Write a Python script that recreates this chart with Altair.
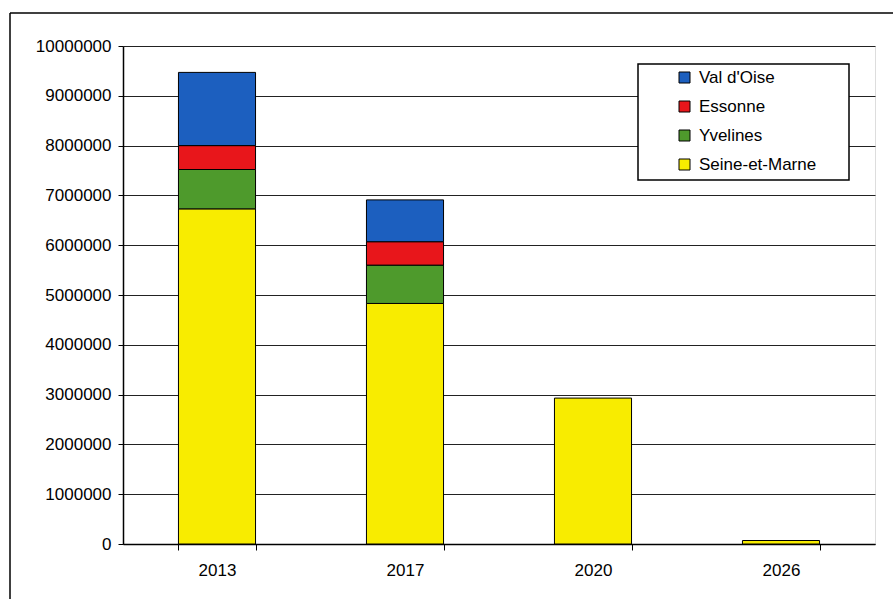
import altair as alt
import pandas as pd

years = ["2013", "2017", "2020", "2026"]
seine_et_marne = [6730000, 4830000, 2930000, 70000]
yvelines = [790000, 770000, 0, 0]
essonne = [480000, 470000, 0, 0]
val_doise = [1470000, 840000, 0, 0]

series_names = ["Seine-et-Marne", "Yvelines", "Essonne", "Val d'Oise"]
series_values = [seine_et_marne, yvelines, essonne, val_doise]
legend_order = ["Val d'Oise", "Essonne", "Yvelines", "Seine-et-Marne"]
colors = ["#1c5fbf", "#e8161b", "#4e9a2c", "#f8ec00"]
y_ticks = [i * 1000000 for i in range(11)]

rows = []
for si, (name, vals) in enumerate(zip(series_names, series_values)):
    for y, v in zip(years, vals):
        rows.append({"year": y, "series": name, "value": v, "stack": si})
df = pd.DataFrame(rows)

FONT = "Liberation Sans"

bars = alt.Chart(df).transform_filter(alt.datum.value > 0).mark_bar(
    stroke="black", strokeWidth=1
).encode(
    x=alt.X("year:N", sort=years,
            scale=alt.Scale(paddingInner=0.59, paddingOuter=0.295),
            axis=alt.Axis(title=None, labelAngle=0, tickBand="extent", tickSize=6,
                          labelFontSize=17, labelFont=FONT, labelColor="black",
                          labelPadding=12, domainColor="black", tickColor="black",
                          domainWidth=1.5, grid=False)),
    y=alt.Y("value:Q", stack="zero",
            scale=alt.Scale(domain=[0, 10000000], nice=False),
            axis=alt.Axis(title=None, format="d", values=y_ticks, tickSize=5,
                          labelFontSize=17, labelFont=FONT, labelColor="black",
                          labelPadding=7, domainColor="black", tickColor="black",
                          domainWidth=1.5, grid=True, gridColor="#222",
                          gridWidth=1.2)),
    color=alt.Color("series:N",
                    scale=alt.Scale(domain=legend_order, range=colors),
                    legend=alt.Legend(orient="none", legendX=553, legendY=23,
                                      title=None, symbolType="square",
                                      symbolSize=121, symbolStrokeColor="black",
                                      symbolStrokeWidth=1, symbolOpacity=1,
                                      labelFontSize=17, labelFont=FONT,
                                      labelColor="black", rowPadding=11,
                                      labelOffset=6, padding=0)),
    order=alt.Order("stack:Q", sort="ascending"),
)

one = pd.DataFrame({"a": [0]})
legend_box = alt.Chart(one).mark_rect(fill="white", stroke="black", strokeWidth=1.5).encode(
    x=alt.value(515), x2=alt.value(726), y=alt.value(18), y2=alt.value(134)
)
frame_left = alt.Chart(one).mark_rule(color="black", strokeWidth=1.5).encode(
    x=alt.value(-113), y=alt.value(-33), y2=alt.value(553)
)
frame_top = alt.Chart(one).mark_rule(color="black", strokeWidth=1.5).encode(
    x=alt.value(-113), x2=alt.value(770), y=alt.value(-33)
)

chart = alt.layer(legend_box, bars, frame_left, frame_top).properties(
    width=752, height=498,
    autosize=alt.AutoSizeParams(type="none"),
    padding={"left": 123, "top": 46, "right": 18, "bottom": 55},
).configure_view(stroke="#222", strokeWidth=1.5).configure(background="white")

chart.save("out.html", embed_options={"renderer": "svg", "actions": False})
